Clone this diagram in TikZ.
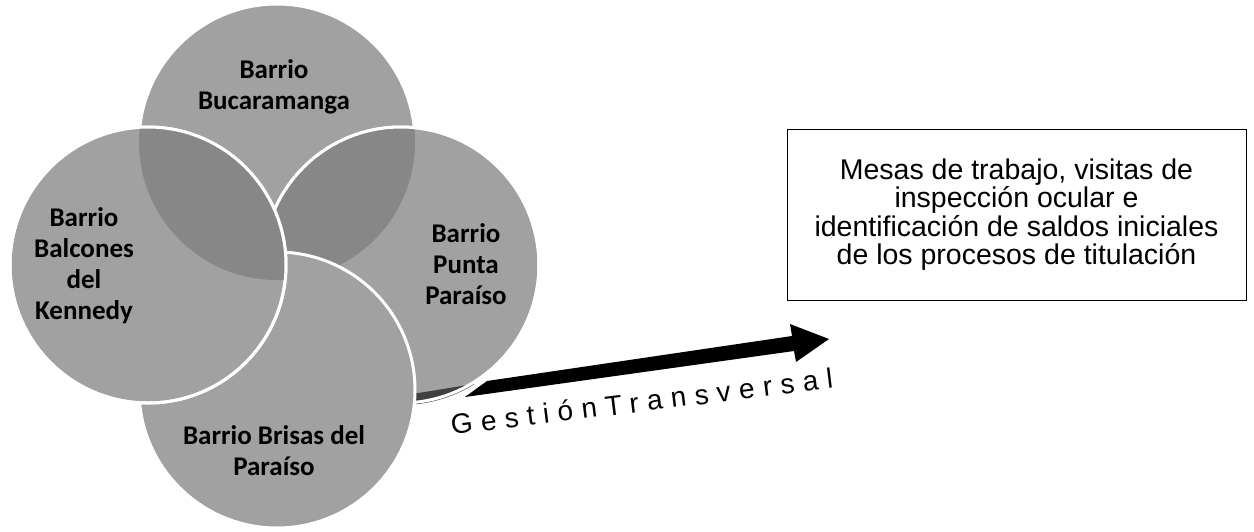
\documentclass[tikz,border=0pt]{standalone}
\usepackage{fontspec}
\setmainfont{Liberation Sans}
\newfontfamily\calfont{Carlito}
\newfontfamily\spacedfont[LetterSpace=30]{Liberation Sans}
\usetikzlibrary{positioning}

\definecolor{zonegray}{gray}{0.63}
\definecolor{lensgray}{gray}{0.53}
\definecolor{shadowgray}{gray}{0.25}

\begin{document}
\begin{tikzpicture}[x=1pt, y=-1pt]

  % Define styles
  \tikzstyle{zone} = [circle, draw=white, line width=3pt, fill=zonegray, minimum size=276pt, inner sep=0pt]
  \tikzstyle{zone_edge} = [draw=white, line width=3pt]
  \tikzstyle{zone_label} = [align=center, font=\calfont\bfseries\fontsize{27}{31}\selectfont]
  \tikzstyle{task_box} = [rectangle, draw, line width=1pt, minimum width=459pt, minimum height=171pt, align=center, font=\fontsize{28.5}{28.5}\selectfont]

  \fill[white] (0,0) rectangle (1254,531);
  \useasboundingbox (0,0) rectangle (1254,531);

  % Barrios (back to front)
  \node[zone] (bucaramanga) at (277,142) {};
  \node[zone] (punta) at (401,265) {};
  \begin{scope}
    \clip (punta.center) circle[radius=138pt];
    \fill[lensgray] (bucaramanga.center) circle[radius=138pt];
  \end{scope}
  \begin{scope}
    \clip (punta.center) circle[radius=140pt];
    \fill[shadowgray] (412,394) -- (474,384) -- (474,412) -- (412,412) -- cycle;
  \end{scope}
  \draw[zone_edge] (punta.center) circle[radius=138pt];

  \node[zone] (brisas) at (277,390) {};
  \node[zone] (kennedy) at (148,265) {};
  \begin{scope}
    \clip (kennedy.center) circle[radius=138pt];
    \fill[lensgray] (bucaramanga.center) circle[radius=138pt];
  \end{scope}
  \draw[zone_edge] (kennedy.center) circle[radius=138pt];

  % Labels
  \node[zone_label] (bucaramanga_text) at (274,87) {Barrio\\Bucaramanga};
  \node[zone_label] (kennedy_text) at (84,266) {Barrio\\Balcones\\del\\Kennedy};
  \node[zone_label] (punta_text) at (466,264) {Barrio\\Punta\\Paraíso};
  \node[zone_label] (brisas_text) at (274,451) {Barrio Brisas del\\Paraíso};

  % Task box
  \node[task_box] (tasks) at (1016.5,214.5) {Mesas de trabajo, visitas de\\inspección ocular e\\identificación de saldos iniciales\\de los procesos de titulación};

  % Transversal arrow
  \coordinate (arrow_tail) at (465,397);
  \coordinate (arrow_tip) at (829,339);
  \fill (arrow_tail) -- (487,381) -- (792,336) -- (790,324) -- (arrow_tip) -- (796,362) -- (794,351) -- cycle;
  \node[rotate=7, anchor=base west, inner sep=0pt, font=\spacedfont\fontsize{28}{28}\selectfont] (gestion_text) at (452,435) {GestiónTransversal};

\end{tikzpicture}
\end{document}
